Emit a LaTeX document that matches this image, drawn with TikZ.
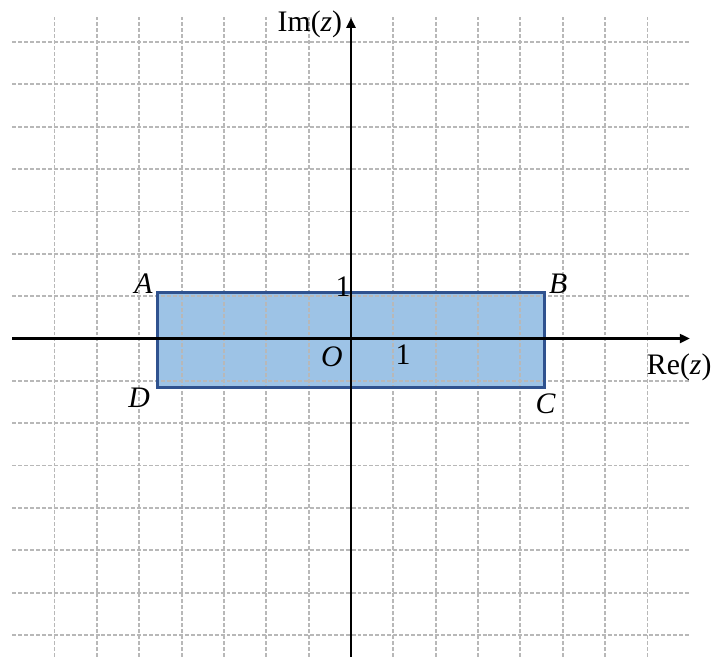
\documentclass[tikz,border=0pt]{standalone}
\usepackage{fontspec}
\setmainfont{Liberation Serif}
\usetikzlibrary{arrows.meta}

\definecolor{rectfill}{HTML}{9DC3E6}
\definecolor{rectedge}{HTML}{2F528F}
\definecolor{gridgray}{HTML}{B8B8B8}

\tikzset{
  gridline/.style={gridgray, line width=0.75pt, dash pattern=on 1.6pt off 0.8pt},
  axis/.style={line width=0.9pt, -{Triangle[length=4pt,width=3.6pt]}},
  lbl/.style={inner sep=0pt, font=\fontsize{12}{14}\selectfont},
}

\begin{document}
\begin{tikzpicture}[x=0.6cm,y=0.6cm]
\useasboundingbox (-8.288,-7.52) rectangle (8.784,7.993);

\coordinate (A) at (-4.57,1.09);
\coordinate (B) at (4.58,1.09);
\coordinate (C) at (4.58,-1.16);
\coordinate (D) at (-4.57,-1.16);

\fill[rectfill] (A) -- (B) -- (C) -- (D) -- cycle;

\foreach \y in {-7,...,7}
  \draw[gridline] (-8,\y) -- (8,\y);
\foreach \x in {-7,...,7}
  \draw[gridline] (\x,-7.52) -- (\x,7.6);

\draw[rectedge, line width=1.2pt] (A) -- (B) -- (C) -- (D) -- cycle;

\coordinate (xstart) at (-8,0);
\coordinate (xend) at (8,0);
\coordinate (ystart) at (0,-7.52);
\coordinate (yend) at (0,7.57);
\draw[axis] (xstart) -- (xend);
\draw[axis] (ystart) -- (yend);

\node[lbl] (labA) at (-4.90,1.29) {\textit{A}};
\node[lbl] (labB) at (4.89,1.29) {\textit{B}};
\node[lbl] (labC) at (4.60,-1.53) {\textit{C}};
\node[lbl] (labD) at (-5.00,-1.39) {\textit{D}};
\node[lbl] (labO) at (-0.45,-0.44) {\textit{O}};
\node[lbl] (oney) at (-0.19,1.22) {1};
\node[lbl] (onex) at (1.23,-0.39) {1};
\node[lbl] (relab) at (7.75,-0.67) {Re(\textit{z})};
\node[lbl] (imlab) at (-0.97,7.43) {Im(\textit{z})};
\end{tikzpicture}
\end{document}
